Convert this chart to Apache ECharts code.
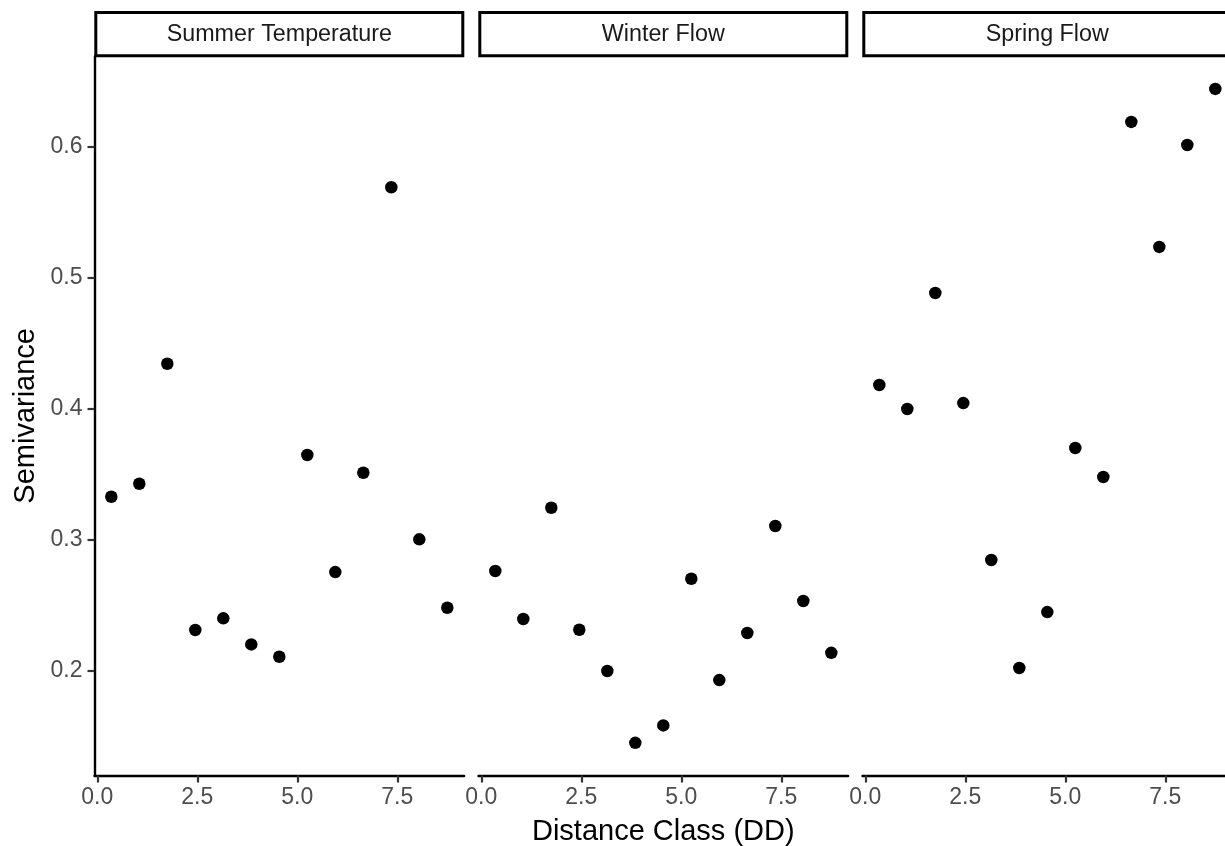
<!DOCTYPE html>
<html>
<head>
<meta charset="utf-8">
<script src="https://cdn.jsdelivr.net/npm/echarts@6/dist/echarts.min.js"></script>
<style>
html,body{margin:0;padding:0;background:#fff;}
#chart{width:1225px;height:846px;}
</style>
</head>
<body>
<div id="chart"></div>
<script>
// ---- data ----
const distance = [0.35, 1.05, 1.75, 2.45, 3.15, 3.85, 4.55, 5.25, 5.95, 6.65, 7.35, 8.05, 8.75];
const panelNames = ['Summer Temperature', 'Winter Flow', 'Spring Flow'];
const summerTemperature = [0.3325, 0.3424, 0.4340, 0.2308, 0.2397, 0.2198, 0.2104, 0.3644, 0.2750, 0.3508, 0.5687, 0.3000, 0.2478];
const winterFlow = [0.2758, 0.2392, 0.3241, 0.2310, 0.1995, 0.1447, 0.1580, 0.2699, 0.1926, 0.2285, 0.3102, 0.2529, 0.2134];
const springFlow = [0.4178, 0.3995, 0.4880, 0.4040, 0.2842, 0.2018, 0.2445, 0.3697, 0.3476, 0.6186, 0.5232, 0.6010, 0.6438];
const xTicks = [0, 2.5, 5, 7.5];
const yTicks = [0.2, 0.3, 0.4, 0.5, 0.6];
const xTitle = 'Distance Class (DD)';
const yTitle = 'Semivariance';

// ---- layout ----
const panelSeries = [summerTemperature, winterFlow, springFlow];
const P0 = 94.5, PSTEP = 384, PW = 369.6, PTOP = 56.2, PH = 719.3;
const FONT = '"Liberation Sans", Arial, Helvetica, sans-serif';

// ggplot-like 5% expansion of scales
function expand(arr) {
  const mn = Math.min(...arr), mx = Math.max(...arr), r = mx - mn;
  return [mn - 0.05 * r, mx + 0.05 * r];
}
const xLim = expand(distance);
const yLim = expand([].concat(summerTemperature, winterFlow, springFlow));

const grids = [], xAxes = [], yAxes = [], series = [], graphics = [];
panelNames.forEach((name, i) => {
  const left = P0 + i * PSTEP;
  grids.push({ left: left, top: PTOP, width: PW, height: PH, containLabel: false, outerBoundsMode: 'none' });
  xAxes.push({
    type: 'value', gridIndex: i, min: xLim[0], max: xLim[1],
    axisLine: { show: true, onZero: false, lineStyle: { color: '#000', width: 2.4 } },
    axisTick: { show: true, customValues: xTicks, length: 7, lineStyle: { color: '#333', width: 2.2 } },
    axisLabel: { show: true, customValues: xTicks, margin: 11, color: '#4d4d4d', fontSize: 23, fontFamily: FONT,
      formatter: v => v.toFixed(1) },
    splitLine: { show: false },
    name: i === 1 ? xTitle : '', nameLocation: 'middle', nameGap: 42,
    nameTextStyle: { color: '#000', fontSize: 29, fontFamily: FONT }
  });
  yAxes.push({
    type: 'value', gridIndex: i, min: yLim[0], max: yLim[1], show: i === 0,
    axisLine: { show: true, onZero: false, lineStyle: { color: '#000', width: 2.4 } },
    axisTick: { show: true, customValues: yTicks, length: 7, lineStyle: { color: '#333', width: 2.2 } },
    axisLabel: { show: true, customValues: yTicks, margin: 12, color: '#4d4d4d', fontSize: 23, fontFamily: FONT,
      formatter: v => v.toFixed(1) },
    splitLine: { show: false },
    name: i === 0 ? yTitle : '', nameLocation: 'middle', nameGap: 54, nameRotate: 90,
    nameTextStyle: { color: '#000', fontSize: 29, fontFamily: FONT }
  });
  series.push({
    type: 'scatter', xAxisIndex: i, yAxisIndex: i, name: name,
    data: distance.map((d, k) => [d, panelSeries[i][k]]),
    symbol: 'circle', symbolSize: 12.5,
    itemStyle: { color: '#000', opacity: 1 }, emphasis: { disabled: true }, silent: true
  });
  graphics.push({
    type: 'rect', shape: { x: left + 1.3, y: 12.5, width: PW - 2.6, height: 43.3 },
    style: { fill: '#fff', stroke: '#000', lineWidth: 3 }, silent: true
  });
  graphics.push({
    type: 'text', x: left + PW / 2, y: 34.5,
    style: { text: name, fill: '#1a1a1a', fontSize: 23.3, fontFamily: FONT, align: 'center', verticalAlign: 'middle' },
    silent: true
  });
});

const chart = echarts.init(document.getElementById('chart'), null, { renderer: 'canvas' });
chart.setOption({
  animation: false,
  backgroundColor: '#fff',
  grid: grids, xAxis: xAxes, yAxis: yAxes, series: series,
  graphic: graphics
});
</script>
</body>
</html>
